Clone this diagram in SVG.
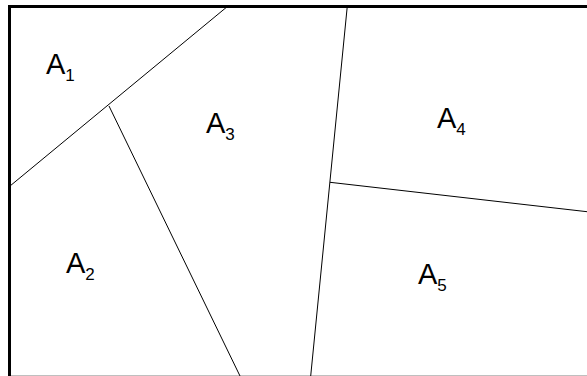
<svg xmlns="http://www.w3.org/2000/svg" width="587" height="376" viewBox="0 0 587 376">
<style>
.frame{fill:none;stroke:#000;stroke-width:3}
.edge{fill:none;stroke:#000;stroke-width:1}
.lbl{font-family:"Liberation Sans",Arial,sans-serif;font-size:29px;fill:#000}
.sub{font-size:17px}
</style>
<rect width="587" height="376" fill="#fff"/>
<g id="frame">
<path class="frame" d="M9.5,378 V6.5 H600"/>
<path class="frame" d="M9.5,377.3 H600"/>
</g>
<g id="connectors">
<line class="edge" x1="10" y1="186" x2="228" y2="6"/>
<line class="edge" x1="109" y1="106" x2="240" y2="376"/>
<line class="edge" x1="347.3" y1="6" x2="310.7" y2="376"/>
<line class="edge" x1="330" y1="182.3" x2="587" y2="211.7"/>
</g>
<g id="A1"><text class="lbl" x="46" y="73.5">A<tspan class="sub" dy="7">1</tspan></text></g>
<g id="A2"><text class="lbl" x="66" y="273">A<tspan class="sub" dy="7">2</tspan></text></g>
<g id="A3"><text class="lbl" x="206" y="132.5">A<tspan class="sub" dy="7">3</tspan></text></g>
<g id="A4"><text class="lbl" x="437" y="128">A<tspan class="sub" dy="7">4</tspan></text></g>
<g id="A5"><text class="lbl" x="418" y="284">A<tspan class="sub" dy="7">5</tspan></text></g>
</svg>
